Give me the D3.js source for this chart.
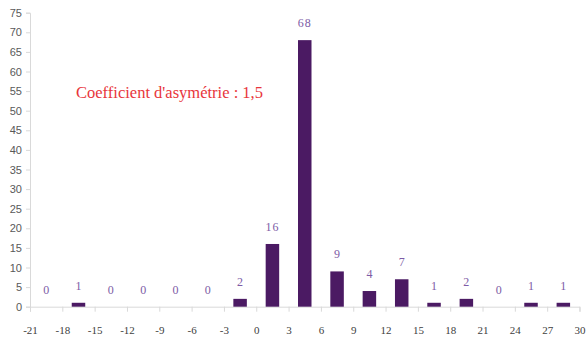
<!DOCTYPE html>
<html><head><meta charset="utf-8">
<script src="https://cdn.jsdelivr.net/npm/d3@7"></script>
<style>body{margin:0;background:#fff}svg{display:block}</style>
</head><body>
<svg id="c" width="587" height="341"></svg>
<script>
const binStarts = [-21,-18,-15,-12,-9,-6,-3,0,3,6,9,12,15,18,21,24,27];
const counts = [0,1,0,0,0,0,2,16,68,9,4,7,1,2,0,1,1];
const xTicks = [-21,-18,-15,-12,-9,-6,-3,0,3,6,9,12,15,18,21,24,27,30];
const yTicks = [0,5,10,15,20,25,30,35,40,45,50,55,60,65,70,75];
const annotation = "Coefficient d'asymétrie : 1,5";

const svg = d3.select("#c");
const x = d3.scaleLinear().domain([-21,30]).range([30,579.5]);
const y = d3.scaleLinear().domain([0,75]).range([306.7,12.7]);
const axisCol = "#d9d9d9";

// y axis
const ya = svg.append("g").attr("transform","translate(30,0)")
  .call(d3.axisLeft(y).tickValues(yTicks).tickSize(4).tickPadding(4));
ya.select(".domain").attr("stroke",axisCol);
ya.selectAll(".tick line").attr("stroke",axisCol);
ya.selectAll(".tick text").attr("fill","#595959").style("font-family","'Liberation Sans',Arial,sans-serif").style("font-size","11px");

// x axis
const xa = svg.append("g").attr("transform",`translate(0,${y(0)})`)
  .call(d3.axisBottom(x).tickValues(xTicks).tickSize(5).tickPadding(15).tickFormat(d=>String(d)));
xa.select(".domain").attr("stroke",axisCol);
xa.selectAll(".tick line").attr("stroke",axisCol);
xa.selectAll(".tick text").attr("fill","#404040").style("font-family","'Liberation Serif','Times New Roman',serif").style("font-size","11px");

// bars
const bw = 13.5;
svg.append("g").selectAll("rect").data(counts).join("rect")
  .attr("x",(d,i)=>x(binStarts[i]+1.5)-bw/2)
  .attr("y",d=>y(d))
  .attr("width",bw)
  .attr("height",d=>y(0)-y(d))
  .attr("fill","#4b1a63");

// labels
svg.append("g").selectAll("text").data(counts).join("text")
  .attr("x",(d,i)=>x(binStarts[i]+1.5))
  .attr("y",d=>y(d)-13)
  .attr("text-anchor","middle")
  .attr("fill","#7d5ba6")
  .style("font-family","'Liberation Serif','Times New Roman',serif")
  .style("font-size","12px")
  .style("letter-spacing",d=>d>=10?"1px":"0px")
  .text(d=>d);

svg.append("text").attr("x",76).attr("y",98)
  .attr("fill","#e8353b")
  .style("font-family","'Liberation Serif','Times New Roman',serif")
  .style("font-size","16px")
  .attr("textLength",187).attr("lengthAdjust","spacingAndGlyphs")
  .text(annotation);
</script>
</body></html>
